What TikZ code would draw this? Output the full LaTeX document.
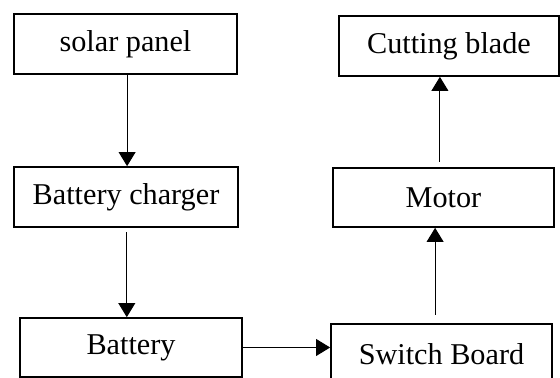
\documentclass[tikz,border=0pt]{standalone}
\usepackage{fontspec}
\setmainfont{Liberation Serif}
\usetikzlibrary{arrows.meta}

\tikzset{
  bloc/.style={draw, line width=1.2pt, inner sep=0pt,
    font=\fontsize{21.5pt}{26pt}\selectfont},
  fleche/.style={-{Triangle[width=12pt,length=10pt]}, line width=0.7pt}
}

\begin{document}
\begin{tikzpicture}[scale=1]

\useasboundingbox
(0,0)
rectangle
(14,9.45);

% Left column
\node[bloc, minimum width=5.575cm, minimum height=1.5cm]
(solar) at (3.1375,8.35)
{solar panel};

\node[bloc, minimum width=5.6cm, minimum height=1.5cm]
(charger) at (3.15,4.525)
{Battery charger};

\node[bloc, minimum width=5.55cm, minimum height=1.475cm]
(battery) at (3.275,0.7625)
{Battery};

% Right column
\node[bloc, minimum width=5.5cm, minimum height=1.5cm]
(blade) at (11.225,8.3)
{Cutting blade};

\node[bloc, minimum width=5.525cm, minimum height=1.475cm]
(motor) at (11.0875,4.5125)
{Motor};

\node[bloc, minimum width=5.525cm, minimum height=1.5cm]
(switch) at (11.0375,0.6)
{Switch Board};

% Arrows
\draw[fleche]
([xshift=0.04cm]solar.south)
--
([xshift=0.04cm]solar.south |- charger.north);

\draw[fleche, shorten <=3pt]
([xshift=0.02cm]charger.south)
--
([xshift=0.02cm]charger.south |- battery.north);

\draw[fleche]
(battery.east)
--
(battery.east -| switch.west);

\draw[fleche, shorten <=6pt]
([xshift=-0.16cm]switch.north)
--
([xshift=-0.16cm]switch.north |- motor.south);

\draw[fleche, shorten <=4pt]
([xshift=-0.09cm]motor.north)
--
([xshift=-0.09cm]motor.north |- blade.south);

\end{tikzpicture}
\end{document}
